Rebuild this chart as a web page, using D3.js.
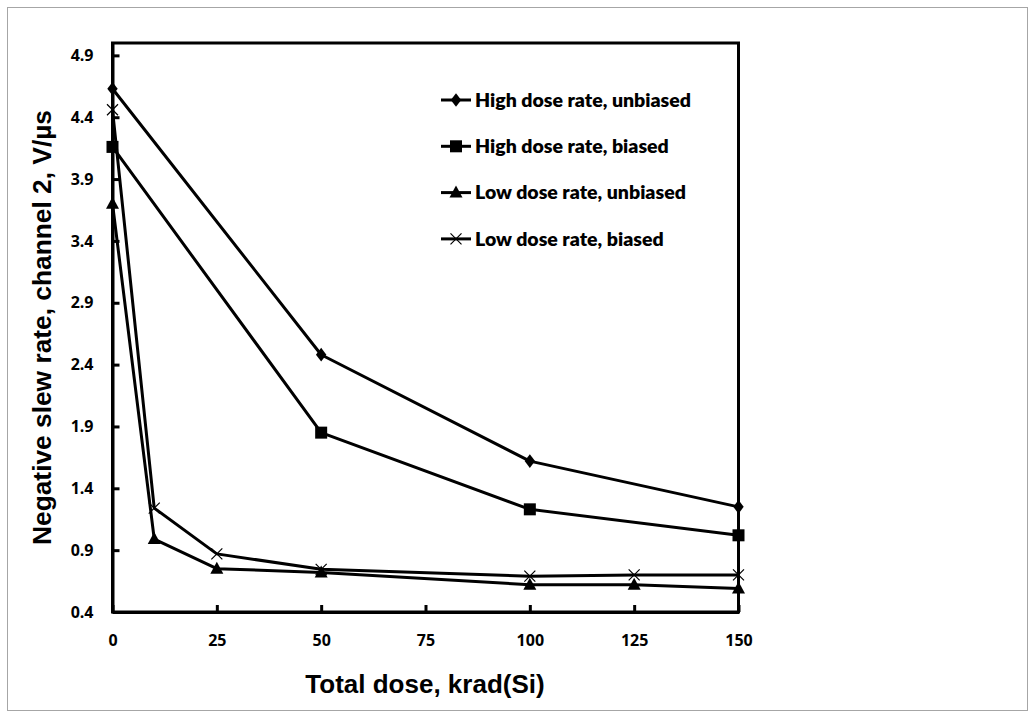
<!DOCTYPE html>
<html>
<head>
<meta charset="utf-8">
<script src="https://cdn.jsdelivr.net/npm/d3@7"></script>
<style>
  html, body { margin: 0; padding: 0; background: #fff; }
  svg { display: block; }
</style>
</head>
<body>
<svg id="chart" width="1035" height="719"></svg>
<script>
// ---- Data ----
const doses = [0, 10, 25, 50, 100, 125, 150];
const seriesNames = [
  "High dose rate, unbiased",
  "High dose rate, biased",
  "Low dose rate, unbiased",
  "Low dose rate, biased"
];
const highUnbiasedX = [0, 50, 100, 150];
const highUnbiasedY = [4.63, 2.48, 1.62, 1.25];
const highBiasedX = [0, 50, 100, 150];
const highBiasedY = [4.16, 1.85, 1.23, 1.02];
const lowUnbiasedX = [0, 10, 25, 50, 100, 125, 150];
const lowUnbiasedY = [3.70, 0.99, 0.75, 0.72, 0.62, 0.62, 0.59];
const lowBiasedX = [0, 10, 25, 50, 100, 125, 150];
const lowBiasedY = [4.46, 1.24, 0.87, 0.745, 0.69, 0.70, 0.70];
const xTicks = [0, 25, 50, 75, 100, 125, 150];
const yTicks = [0.4, 0.9, 1.4, 1.9, 2.4, 2.9, 3.4, 3.9, 4.4, 4.9];
const xTitle = "Total dose, krad(Si)";
const yTitle = "Negative slew rate, channel 2, V/\u00b5s";

const series = [
  { name: seriesNames[0], xs: highUnbiasedX, ys: highUnbiasedY, marker: "diamond" },
  { name: seriesNames[1], xs: highBiasedX, ys: highBiasedY, marker: "square" },
  { name: seriesNames[2], xs: lowUnbiasedX, ys: lowUnbiasedY, marker: "triangle" },
  { name: seriesNames[3], xs: lowBiasedX, ys: lowBiasedY, marker: "cross" }
];

// ---- Layout ----
const svg = d3.select("#chart");
const L = 112.5, R = 738.5, T = 43, B = 612;

// outer frame
svg.append("rect").attr("x", 7.5).attr("y", 7.5).attr("width", 1020).attr("height", 703)
  .attr("fill", "none").attr("stroke", "#a6a6a6").attr("stroke-width", 1);

const x = d3.scaleLinear().domain([0, 150]).range([L, R]);
const y = d3.scaleLinear().domain([0.4, 5.0]).range([B, T]);

const tickFont = "'Open Sans', 'Liberation Sans', sans-serif";

// plot frame (top/right)
svg.append("rect").attr("x", L).attr("y", T).attr("width", R - L).attr("height", B - T)
  .attr("fill", "none").attr("stroke", "#000").attr("stroke-width", 3);

// axes
const yAxis = d3.axisLeft(y).tickValues(yTicks).tickSizeInner(-7).tickSizeOuter(0)
  .tickPadding(19).tickFormat(d3.format(".1f"));
const gy = svg.append("g").attr("transform", `translate(${L},0)`).call(yAxis);
gy.select(".domain").attr("stroke", "#000").attr("stroke-width", 3);
gy.selectAll(".tick line").attr("stroke", "#000").attr("stroke-width", 3);
gy.selectAll(".tick text").attr("font-family", tickFont).attr("font-weight", 700)
  .attr("font-size", 16).attr("fill", "#000").attr("x", -19);

const xAxis = d3.axisBottom(x).tickValues(xTicks).tickSizeInner(-7).tickSizeOuter(0)
  .tickPadding(0);
const gx = svg.append("g").attr("transform", `translate(0,${B})`).call(xAxis);
gx.select(".domain").attr("stroke", "#000").attr("stroke-width", 3);
gx.selectAll(".tick line").attr("stroke", "#000").attr("stroke-width", 3);
gx.selectAll(".tick text").attr("font-family", tickFont).attr("font-weight", 700)
  .attr("font-size", 16).attr("fill", "#000").attr("y", 34).attr("dy", "0");

// lines
const line = d3.line().x(d => x(d[0])).y(d => y(d[1]));
series.forEach(s => {
  const pts = s.xs.map((v, i) => [v, s.ys[i]]);
  svg.append("path").datum(pts).attr("d", line)
    .attr("fill", "none").attr("stroke", "#000").attr("stroke-width", 3)
    .attr("stroke-linejoin", "round");
});

function drawMarker(g, type, cx, cy) {
  if (type === "diamond") {
    g.append("path").attr("d", d3.symbol(d3.symbolDiamond, 60)())
      .attr("transform", `translate(${cx},${cy}) scale(1.25,0.95)`).attr("fill", "#000");
  } else if (type === "square") {
    g.append("rect").attr("x", cx - 6).attr("y", cy - 6).attr("width", 12).attr("height", 12)
      .attr("fill", "#000");
  } else if (type === "triangle") {
    g.append("path").attr("d", `M${cx},${cy - 7}L${cx + 6.5},${cy + 5}L${cx - 6.5},${cy + 5}Z`)
      .attr("fill", "#000");
  } else if (type === "cross") {
    g.append("path").attr("d", `M${cx - 5.5},${cy - 5.5}L${cx + 5.5},${cy + 5.5}M${cx - 5.5},${cy + 5.5}L${cx + 5.5},${cy - 5.5}`)
      .attr("stroke", "#000").attr("stroke-width", 1.2).attr("fill", "none");
  }
}

const mg = svg.append("g");
series.forEach(s => {
  s.xs.forEach((v, i) => drawMarker(mg, s.marker, x(v), y(s.ys[i])));
});

// legend
const legendFont = "Lato, 'Open Sans', sans-serif";
const lg = svg.append("g");
series.forEach((s, i) => {
  const ly = 100 + i * 46.3;
  lg.append("line").attr("x1", 441).attr("x2", 471).attr("y1", ly).attr("y2", ly)
    .attr("stroke", "#000").attr("stroke-width", 3);
  drawMarker(lg, s.marker, 456, ly);
  lg.append("text").attr("x", 475).attr("y", ly).attr("dy", "0.35em")
    .attr("font-family", legendFont).attr("font-weight", 800).attr("font-size", 19.5)
    .attr("fill", "#000").text(s.name);
});

// titles
const titleFont = "'Liberation Sans', Arial, sans-serif";
svg.append("text").attr("x", 425).attr("y", 693).attr("text-anchor", "middle")
  .attr("font-family", titleFont).attr("font-weight", 700).attr("font-size", 26)
  .attr("fill", "#000").text(xTitle);
svg.append("text").attr("transform", `translate(51,${(T + B) / 2}) rotate(-90)`)
  .attr("text-anchor", "middle")
  .attr("font-family", titleFont).attr("font-weight", 700).attr("font-size", 26)
  .attr("textLength", 435).attr("lengthAdjust", "spacingAndGlyphs")
  .attr("fill", "#000").text(yTitle);
</script>
</body>
</html>
